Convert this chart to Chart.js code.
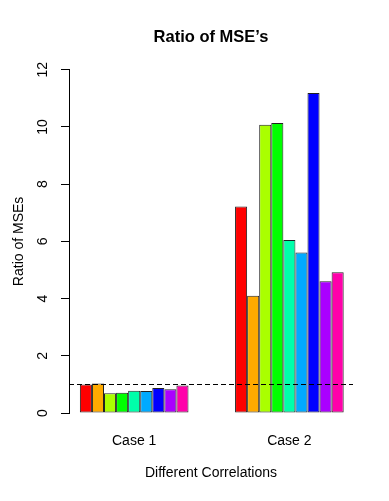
<!DOCTYPE html>
<html>
<head>
<meta charset="utf-8">
<script src="https://cdn.jsdelivr.net/npm/chart.js@4/dist/chart.umd.min.js"></script>
<style>
  html, body { margin: 0; padding: 0; background: #fff; }
  #wrap { width: 389px; height: 501px; }
</style>
</head>
<body>
<div id="wrap"><canvas id="mseChart"></canvas></div>
<script>
// data
const categories = ['Case 1', 'Case 2'];
const case1 = [1.00, 1.03, 0.69, 0.71, 0.78, 0.77, 0.87, 0.83, 0.96];
const case2 = [7.22, 4.10, 10.08, 10.14, 6.05, 5.61, 11.19, 4.61, 4.92];
const yTicks = [0, 2, 4, 6, 8, 10, 12];
const refLine = 1;

// R rainbow(9)
const barColors = ['#FF0000', '#FFAA00', '#AAFF00', '#00FF00', '#00FFAA', '#00AAFF', '#0000FF', '#AA00FF', '#FF00AA'];
const FONT = '"Liberation Sans", Arial, Helvetica, sans-serif';

const groups = [case1, case2];
const datasets = barColors.map((col, i) => ({
  data: groups.map((g, j) => ({ x: j + 1, y: g[i] })),
  backgroundColor: col,
  borderColor: '#222',
  borderWidth: 1,
  borderSkipped: false,
  barPercentage: 1,
  categoryPercentage: 0.70
}));

// dashed reference line at ratio = 1, plus title centred over the plot region like R
const refLinePlugin = {
  id: 'refLine',
  afterLayout(chart) {
    if (chart.titleBlock) {
      chart.titleBlock.left = chart.chartArea.left;
      chart.titleBlock.right = chart.chartArea.right;
    }
  },
  afterDatasetsDraw(chart) {
    const { ctx, chartArea, scales } = chart;
    const y = Math.round(scales.y.getPixelForValue(refLine)) + 0.5;
    ctx.save();
    ctx.strokeStyle = '#000';
    ctx.lineWidth = 1;
    ctx.setLineDash([5, 3]);
    ctx.beginPath();
    ctx.moveTo(chartArea.left, y);
    ctx.lineTo(chartArea.right, y);
    ctx.stroke();
    ctx.restore();
  }
};

new Chart(document.getElementById('mseChart'), {
  type: 'bar',
  data: { datasets },
  options: {
    responsive: true,
    maintainAspectRatio: false,
    animation: false,
    layout: { padding: { left: 0, right: 36, top: 0, bottom: 0 } },
    plugins: {
      legend: { display: false },
      tooltip: { enabled: false },
      title: {
        display: true,
        text: "Ratio of MSE\u2019s",
        color: '#000',
        font: { family: FONT, size: 16.5, weight: 'bold' },
        padding: { top: 28, bottom: 22 }
      }
    },
    scales: {
      x: {
        type: 'linear',
        offset: false,
        min: 0.58,
        max: 2.41,
        grid: { display: false },
        border: { display: false },
        afterBuildTicks: (s) => { s.ticks = categories.map((c, i) => ({ value: i + 1 })); },
        afterFit: (s) => { s.height = 88; },
        ticks: {
          color: '#000',
          padding: 12,
          font: { family: FONT, size: 14 },
          callback: (v) => categories[v - 1]
        },
        title: {
          display: true,
          text: 'Different Correlations',
          color: '#000',
          font: { family: FONT, size: 14 },
          padding: { top: 0, bottom: 19 }
        }
      },
      y: {
        min: 0,
        max: 12,
        afterBuildTicks: (s) => { s.ticks = yTicks.map(v => ({ value: v })); },
        afterFit: (s) => { s.width = 69; },
        grid: { drawOnChartArea: false, drawTicks: true, tickLength: 8, color: '#000' },
        border: { display: true, color: '#000' },
        ticks: {
          color: '#000',
          minRotation: 90,
          maxRotation: 90,
          crossAlign: 'center',
          padding: 10,
          font: { family: FONT, size: 14 }
        },
        title: {
          display: true,
          text: 'Ratio of MSEs',
          color: '#000',
          font: { family: FONT, size: 14 },
          padding: { top: 11, bottom: 0 }
        }
      }
    }
  },
  plugins: [refLinePlugin]
});
</script>
</body>
</html>
